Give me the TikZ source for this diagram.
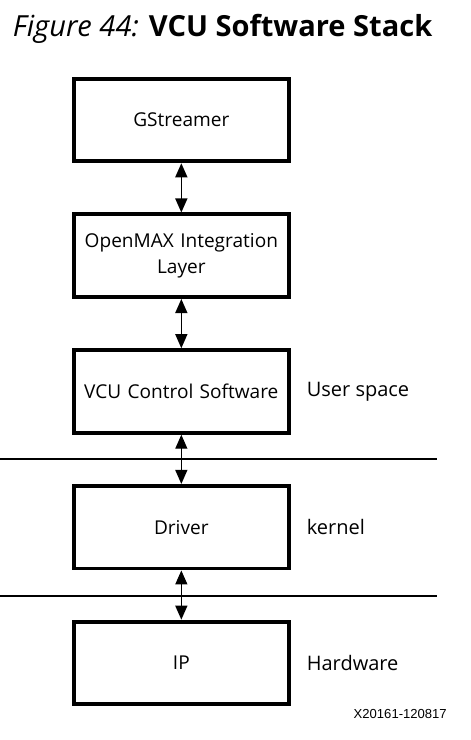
\documentclass[tikz,border=0pt]{standalone}
\usepackage{fontspec}
\setmainfont{Open Sans}
\newfontfamily\tagfont{Liberation Sans}
\usetikzlibrary{arrows.meta,positioning}

\begin{document}
\begin{tikzpicture}[
    node distance=101.8pt,
    block/.style={
      rectangle,
      draw,
      line width=2.9pt,
      text width=155pt,
      align=center,
      minimum width=161pt,
      minimum height=62pt,
      inner sep=2pt,
      font=\fontsize{14.3}{19}\selectfont
    },
    lbl/.style={inner sep=0pt, font=\fontsize{15}{18}\selectfont},
    line/.style={draw, line width=1pt,
      {Triangle[width=9pt,length=10.5pt]}-{Triangle[width=9pt,length=10.5pt]}},
    divider/.style={draw, line width=0.8pt},
]
    \useasboundingbox (0,0) rectangle (353.25pt,-555pt);
    \node [inner sep=0pt, font=\fontsize{21.8}{25}\selectfont] (title) at (167pt,-21.75pt)
      {\textit{Figure 44:} \textbf{VCU Software Stack}};

    \node [block] (gst) at (136pt,-90pt) {GStreamer};
    \node [block, below of=gst] (omx) {OpenMAX Integration\\Layer};
    \node [block, below of=omx] (vcu) {VCU Control Software};
    \node [block, below of=vcu] (drv) {Driver};
    \node [block, below of=drv] (ip) {IP};

    \node [lbl, right=12pt of vcu] (user) {User space};
    \node [lbl, right=12pt of drv] (kern) {kernel};
    \node [lbl, right=12pt of ip] (hw) {Hardware};

    % layer boundaries
    \coordinate (b1) at (0pt,-344.25pt);
    \coordinate (b2) at (0pt,-447pt);
    \path [divider] (b1) -- ++(327.75pt,0pt);
    \path [divider] (b2) -- ++(327.75pt,0pt);

    \path [line] (gst) -- (omx);
    \path [line] (omx) -- (vcu);
    \path [line] (vcu) -- (drv);
    \path [line] (drv) -- (ip);

    \node [inner sep=0pt, anchor=east, font=\tagfont\fontsize{9.8}{12}\selectfont] (tag)
      at (335.25pt,-535.5pt) {X20161-120817};
\end{tikzpicture}
\end{document}
